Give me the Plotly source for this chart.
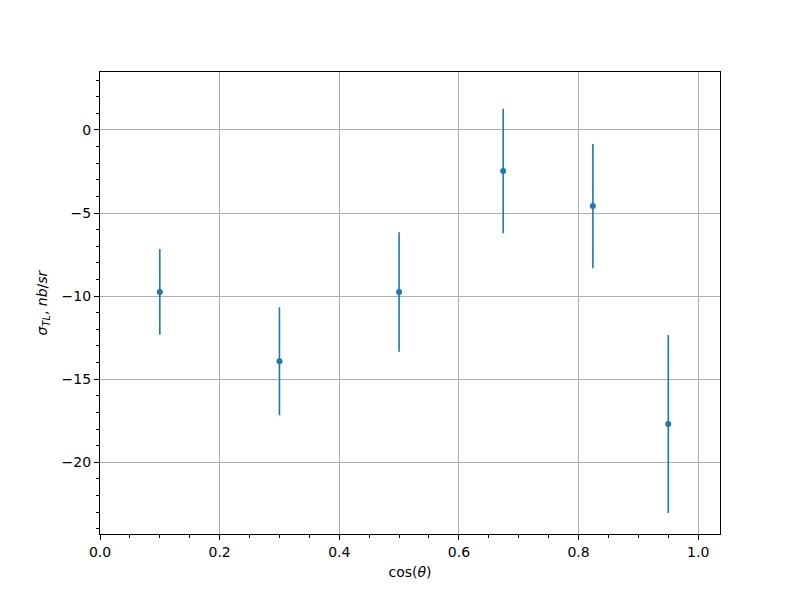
import plotly.graph_objects as go

cos_theta = [0.1, 0.3, 0.5, 0.674, 0.824, 0.95]
sigma_tl = [-9.75, -13.92, -9.75, -2.47, -4.58, -17.70]
sigma_err = [2.58, 3.25, 3.6, 3.75, 3.74, 5.36]

x_ticks = [0.0, 0.2, 0.4, 0.6, 0.8, 1.0]
y_ticks = [0, -5, -10, -15, -20]

blue = "#1f77b4"
font = "DejaVu Sans"

fig = go.Figure()
fig.add_trace(go.Scatter(
    x=cos_theta, y=sigma_tl, mode="markers",
    marker=dict(color=blue, size=6),
    error_y=dict(type="data", array=sigma_err, visible=True, color=blue, thickness=1.6, width=0),
    showlegend=False,
))

axis_common = dict(
    showline=True, linecolor="black", linewidth=1.1, mirror=True,
    ticks="outside", ticklen=5, tickwidth=1.1, tickcolor="black",
    showgrid=True, gridcolor="#b0b0b0", gridwidth=1.1,
    zeroline=False, automargin=False,
    tickfont=dict(family=font, size=14, color="black"),
)

# page body adds an 8px offset; compensate in margins
fig.update_layout(
    width=800, height=600,
    margin=dict(l=92, r=88, t=64, b=74),
    paper_bgcolor="white", plot_bgcolor="white",
    font=dict(family=font, size=14, color="black"),
    xaxis=dict(
        range=[0, 1.0365], tickvals=x_ticks, tickformat=".1f",
        minor=dict(dtick=0.05, tick0=0, ticks="outside", ticklen=3, tickwidth=1, tickcolor="black", showgrid=False),
        title=dict(text="cos(<i>θ</i>)", font=dict(family=font, size=14), standoff=8),
        **axis_common,
    ),
    yaxis=dict(
        range=[-24.32, 3.49], tickvals=y_ticks,
        minor=dict(dtick=1, tick0=0, ticks="outside", ticklen=3, tickwidth=1, tickcolor="black", showgrid=False),
        title=dict(text="<i>σ</i><sub><i>TL</i></sub>, <i>nb</i>/<i>sr</i>", font=dict(family=font, size=14), standoff=10),
        **axis_common,
    ),
)

fig.write_html("out.html")
